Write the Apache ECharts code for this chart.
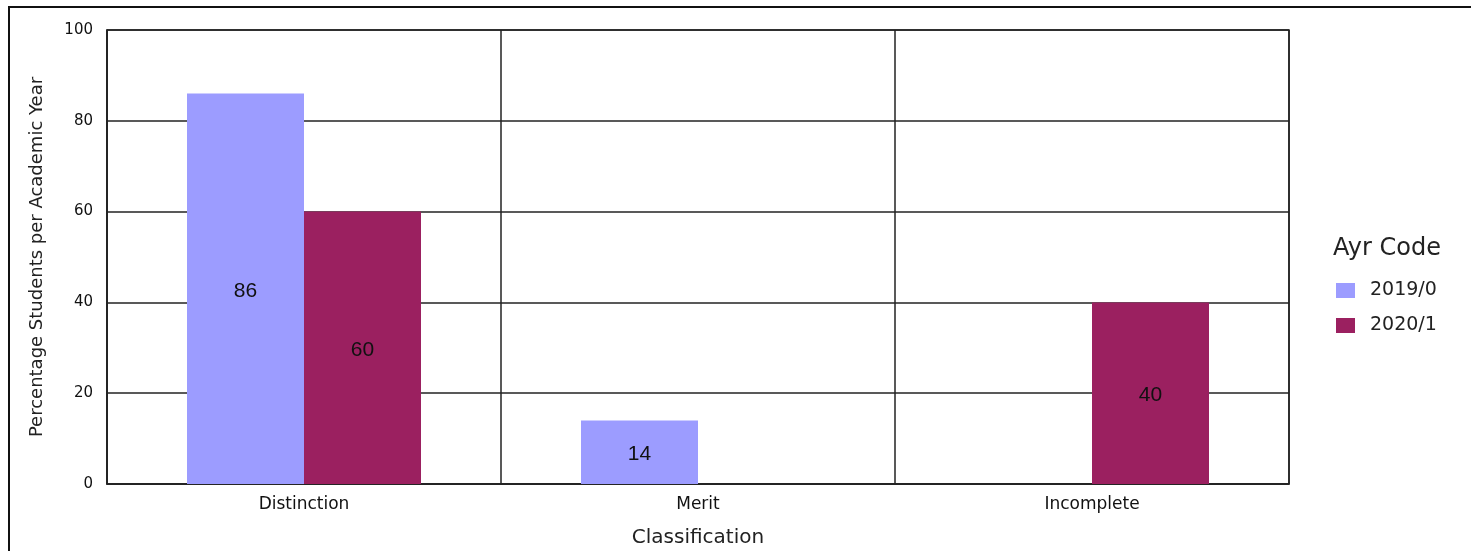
<!DOCTYPE html>
<html>
<head>
<meta charset="utf-8">
<script src="https://cdn.jsdelivr.net/npm/echarts@6/dist/echarts.min.js"></script>
<style>
  html, body { margin: 0; padding: 0; background: #fff; }
  #chart { width: 1471px; height: 551px; }
</style>
</head>
<body>
<div id="chart"></div>
<script>
(function() {
  var categories = ['Distinction', 'Merit', 'Incomplete'];
  var seriesNames = ['2019/0', '2020/1'];
  var values2019 = [86, 14, null];
  var values2020 = [60, null, 40];
  var colors = ['#9c9cff', '#9b2060'];

  var ink = '#222';
  var sans = '"Liberation Sans", Arial, sans-serif';
  var wide = '"DejaVu Sans", Verdana, sans-serif';

  var chart = echarts.init(document.getElementById('chart'), null, { renderer: 'canvas' });

  function barSeries(name, data, color) {
    return {
      type: 'bar', name: name, data: data,
      barWidth: 117, barGap: '0%',
      itemStyle: { color: color },
      label: {
        show: true, position: 'inside', color: '#111',
        fontFamily: sans, fontSize: 21, offset: [0, 2]
      }
    };
  }

  chart.setOption({
    animation: false,
    backgroundColor: '#fff',
    grid: {
      left: 107, right: 182, top: 30, bottom: 67, outerBoundsMode: 'none',
      show: true, borderColor: ink, borderWidth: 1.5, backgroundColor: 'transparent'
    },
    graphic: [{
      type: 'rect', silent: true,
      shape: { x: 9, y: 7, width: 1500, height: 600 },
      style: { fill: 'none', stroke: '#111', lineWidth: 2 }
    }, {
      type: 'text', left: 1333, top: 237,
      style: { text: 'Ayr Code', font: '24px ' + wide, fill: '#222' }
    }],
    legend: {
      orient: 'vertical', left: 1331, top: 276, itemGap: 16,
      itemWidth: 19, itemHeight: 15, icon: 'rect',
      data: seriesNames,
      textStyle: { color: '#222', fontFamily: wide, fontSize: 19, lineHeight: 15, padding: [0, 0, 0, 10] }
    },
    xAxis: {
      type: 'category', data: categories,
      name: 'Classification', nameLocation: 'middle', nameGap: 44,
      nameTextStyle: { color: '#222', fontFamily: wide, fontSize: 20 },
      axisLine: { show: true, lineStyle: { color: ink, width: 1.5 } },
      axisTick: { show: false },
      axisLabel: { color: '#111', fontFamily: wide, fontSize: 17, margin: 12 },
      splitLine: { show: true, lineStyle: { color: ink, width: 1.5 } }
    },
    yAxis: {
      type: 'value', min: 0, max: 100, interval: 20,
      name: 'Percentage Students per Academic Year', nameLocation: 'middle', nameGap: 61,
      nameTextStyle: { color: '#222', fontFamily: wide, fontSize: 18 },
      axisLine: { show: true, lineStyle: { color: ink, width: 1.5 } },
      axisTick: { show: false },
      axisLabel: { color: '#111', fontFamily: wide, fontSize: 15, margin: 14 },
      splitLine: { show: true, lineStyle: { color: ink, width: 1.5 } }
    },
    series: [
      barSeries(seriesNames[0], values2019, colors[0]),
      barSeries(seriesNames[1], values2020, colors[1])
    ]
  });
})();
</script>
</body>
</html>
